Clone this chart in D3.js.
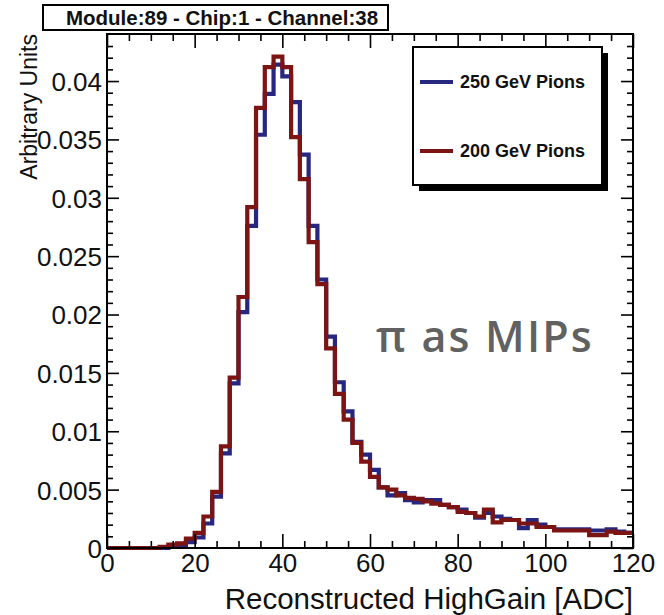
<!DOCTYPE html>
<html><head><meta charset="utf-8">
<script src="https://cdn.jsdelivr.net/npm/d3@7/dist/d3.min.js"></script>
<style>body{margin:0;background:#fff}</style>
</head><body>
<svg id="c" width="664" height="615"></svg>
<script>
// ---- data ----
const titleText = "Module:89 - Chip:1 - Channel:38";
const xTitle = "Reconstructed HighGain [ADC]";
const yTitle = "Arbitrary Units";
const annotation = "π as MIPs";
const seriesNames = ["250 GeV Pions", "200 GeV Pions"];
const xTicks = [0, 20, 40, 60, 80, 100, 120];
const yTicks = [0, 0.005, 0.01, 0.015, 0.02, 0.025, 0.03, 0.035, 0.04];
const yTickLabels = ["0", "0.005", "0.01", "0.015", "0.02", "0.025", "0.03", "0.035", "0.04"];
const binWidth = 2;
const binLow = d3.range(0, 120, binWidth); // 60 bins, 0..120 ADC
const pions250 = [
  0, 0, 0, 0, 0, 0, 0, 0.0001, 0.0002, 0.0005,
  0.0009, 0.0021, 0.0044, 0.0081, 0.0141, 0.0202, 0.0276, 0.0354, 0.0389, 0.0414,
  0.0404, 0.0382, 0.0337, 0.0276, 0.0230, 0.0181, 0.0142, 0.0117, 0.0091, 0.0080,
  0.0067, 0.0052, 0.0045, 0.0047, 0.0041, 0.0039, 0.0041, 0.0041, 0.0037, 0.0035,
  0.0033, 0.0030, 0.0026, 0.0030, 0.0027, 0.0025, 0.0024, 0.0017, 0.0024, 0.0020,
  0.0018, 0.0016, 0.0016, 0.0016, 0.0016, 0.0015, 0.0015, 0.0016, 0.0014, 0.0013
];
const pions200 = [
  0, 0, 0, 0, 0, 0, 0.0001, 0.0003, 0.0004, 0.0008,
  0.0013, 0.0027, 0.0048, 0.0087, 0.0146, 0.0215, 0.0292, 0.0377, 0.0412, 0.0421,
  0.0412, 0.0352, 0.0316, 0.0262, 0.0226, 0.0171, 0.0132, 0.0110, 0.0090, 0.0074,
  0.0061, 0.0052, 0.0050, 0.0045, 0.0043, 0.0042, 0.0040, 0.0038, 0.0037, 0.0035,
  0.0031, 0.0030, 0.0027, 0.0033, 0.0022, 0.0024, 0.0024, 0.0021, 0.0021, 0.0018,
  0.0018, 0.0015, 0.0015, 0.0015, 0.0015, 0.0011, 0.0011, 0.0014, 0.0013, 0.0013
];
const colors = ["#27277f", "#7c1414"];

// ---- layout ----
const L = 107, R = 633, T = 34, B = 548;
const svg = d3.select("#c");
const x = d3.scaleLinear().domain([0, 120]).range([L, R]);
const y = d3.scaleLinear().domain([0, 0.04403]).range([B, T]);
const font = "'Liberation Sans', Arial, Helvetica, sans-serif";

// histograms
function stepPoints(vals) {
  const pts = [];
  vals.forEach((v, i) => {
    pts.push([binLow[i], v]);
    pts.push([binLow[i] + binWidth, v]);
  });
  return pts;
}
const line = d3.line().x(d => x(d[0])).y(d => y(d[1]));
[pions250, pions200].forEach((vals, i) => {
  svg.append("path").attr("d", line(stepPoints(vals)))
    .attr("fill", "none").attr("stroke", colors[i]).attr("stroke-width", 4.2)
    .attr("stroke-linejoin", "miter");
});

// axes (ticks inward, ROOT style)
const minorX = d3.range(0, 121, 5).filter(v => v % 20);
const gx = svg.append("g").attr("transform", `translate(0,${B})`)
  .call(d3.axisBottom(x).tickValues(xTicks).tickSize(-14).tickPadding(5).tickFormat(d3.format("d")));
svg.append("g").attr("transform", `translate(0,${B})`)
  .call(d3.axisBottom(x).tickValues(minorX).tickSize(-7).tickFormat(""));
svg.append("g").attr("transform", `translate(0,${T})`)
  .call(d3.axisTop(x).tickValues(xTicks).tickSize(-14).tickFormat(""));
svg.append("g").attr("transform", `translate(0,${T})`)
  .call(d3.axisTop(x).tickValues(minorX).tickSize(-7).tickFormat(""));
const gy = svg.append("g").attr("transform", `translate(${L},0)`)
  .call(d3.axisLeft(y).tickValues(yTicks).tickSize(-12).tickPadding(5).tickFormat((d, i) => yTickLabels[i]));
const minorY = d3.range(0, 44).map(v => v / 1000).filter((v, i) => i % 5);
svg.append("g").attr("transform", `translate(${L},0)`)
  .call(d3.axisLeft(y).tickValues(minorY).tickSize(-6).tickFormat(""));
svg.append("g").attr("transform", `translate(${R},0)`)
  .call(d3.axisRight(y).tickValues(yTicks).tickSize(-12).tickFormat(""));
svg.append("g").attr("transform", `translate(${R},0)`)
  .call(d3.axisRight(y).tickValues(minorY).tickSize(-6).tickFormat(""));
svg.selectAll(".domain").remove();
svg.selectAll(".tick line").attr("stroke", "#000").attr("stroke-width", 1.6);
svg.selectAll(".tick text").attr("font-family", font).attr("font-size", 26).attr("fill", "#111");
gy.selectAll(".tick text").attr("dy", "0.36em");
gx.selectAll(".tick text").attr("dy", "0.72em");

// frame
svg.append("rect").attr("x", L).attr("y", T).attr("width", R - L).attr("height", B - T)
  .attr("fill", "none").attr("stroke", "#000").attr("stroke-width", 2);

// axis titles
svg.append("text").attr("x", R).attr("y", 609).attr("text-anchor", "end")
  .attr("font-family", font).attr("font-size", 29.5).attr("fill", "#111").text(xTitle);
svg.append("text").attr("transform", `translate(37,${T}) rotate(-90)`).attr("text-anchor", "end")
  .attr("font-family", font).attr("font-size", 23).attr("fill", "#111").text(yTitle);

// title box
svg.append("rect").attr("x", 43).attr("y", 5).attr("width", 345).attr("height", 25)
  .attr("fill", "#fff").attr("stroke", "#000").attr("stroke-width", 2);
svg.append("text").attr("x", 222).attr("y", 25).attr("text-anchor", "middle")
  .attr("font-family", font).attr("font-weight", "bold").attr("font-size", 20.5).attr("fill", "#111").text(titleText);

// legend
const lg = svg.append("g");
lg.append("rect").attr("x", 419).attr("y", 53).attr("width", 189).attr("height", 138).attr("fill", "#000");
lg.append("rect").attr("x", 413).attr("y", 47).attr("width", 189).attr("height", 138)
  .attr("fill", "#fff").attr("stroke", "#000").attr("stroke-width", 2);
[82, 151].forEach((ly, i) => {
  lg.append("line").attr("x1", 420).attr("x2", 453).attr("y1", ly).attr("y2", ly)
    .attr("stroke", colors[i]).attr("stroke-width", 4);
  lg.append("text").attr("x", 460).attr("y", ly + 6).attr("font-family", font)
    .attr("font-weight", "bold").attr("font-size", 18).attr("fill", "#111").text(seriesNames[i]);
});

// annotation
svg.append("text").attr("x", 376).attr("y", 352).attr("font-family", "'Open Sans', sans-serif")
  .attr("font-weight", 600).attr("font-size", 43).attr("letter-spacing", 2.2)
  .attr("fill", "#616161").text(annotation);
</script>
</body></html>
